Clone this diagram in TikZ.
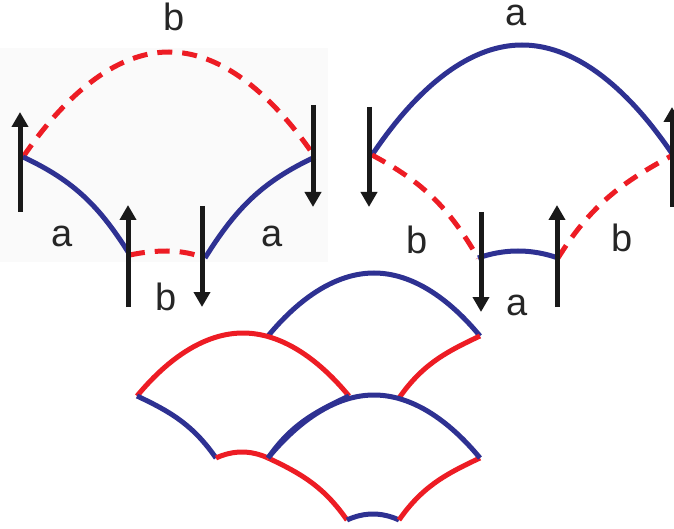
\documentclass[tikz,border=0pt]{standalone}
\usepackage{fontspec}
\setmainfont{Liberation Sans}
\usepackage{tikz}
\usetikzlibrary{arrows.meta}
\definecolor{bondblue}{RGB}{46,49,146}
\definecolor{bondred}{RGB}{237,28,36}
\tikzset{
  bonda/.style = {draw=bondblue, line width=5pt},
  bondb/.style = {draw=bondred, line width=5pt},
  dashb/.style = {bondb, dash pattern=on 15pt off 10pt},
  spin/.style = {-{Triangle[length=15pt,width=16pt]}, line width=5pt, draw=black!90},
  lbl/.style = {font=\fontsize{38}{44}\selectfont, text=black!85, inner sep=0pt}
}

\begin{document}
\begin{tikzpicture}[x=1pt, y=1pt]
\useasboundingbox (0,0) rectangle (674,-529);

% ----- LEFT PANEL -----
\fill[black!2] (0,-48) rectangle (328,-262);
\coordinate (L1)   at (23,-157);
\coordinate (L2)   at (315,-157);
\coordinate (L3)   at (130,-255);
\coordinate (L4)   at (205,-258);
\coordinate (Ltop) at (169,-52);
\coordinate (Lbot) at (167,-251);

\draw[dashb] (L1) parabola bend (Ltop) (L2);
\draw[bonda] (L1) to[out=-25, in=122] (L3);
\draw[dashb] (L3) parabola bend (Lbot) (L4);
\draw[bonda] (L4) to[out=58, in=-155] (L2);

\node[lbl] (lb1) at (174,-17)  {b};
\node[lbl] (la1) at (62,-236)  {a};
\node[lbl] (la2) at (272,-236) {a};
\node[lbl] (lb2) at (166,-297) {b};

% ----- RIGHT PANEL -----
\coordinate (R1)   at (372,-155);
\coordinate (R2)   at (673,-155);
\coordinate (R3)   at (478,-258);
\coordinate (R4)   at (558,-258);
\coordinate (Rtop) at (522,-45);
\coordinate (Rbot) at (518,-251);

\draw[bonda] (R1) parabola bend (Rtop) (R2);
\draw[dashb] (R1) to[out=-28, in=120] (R3);
\draw[bonda] (R3) parabola bend (Rbot) (R4);
\draw[dashb] (R4) to[out=58, in=-152] (R2);

\node[lbl] (ra1) at (516,-15)  {a};
\node[lbl] (rb1) at (417,-240) {b};
\node[lbl] (rb2) at (622,-238) {b};
\node[lbl] (ra2) at (517,-305) {a};

% ----- SPINS -----
\coordinate (s1a) at (20,-212);  \coordinate (s1b) at (20,-112);
\coordinate (s2a) at (313,-105); \coordinate (s2b) at (313,-207);
\coordinate (s3a) at (128,-307); \coordinate (s3b) at (128,-205);
\coordinate (s4a) at (202,-206); \coordinate (s4b) at (202,-307);
\coordinate (s5a) at (369,-107); \coordinate (s5b) at (369,-207);
\coordinate (s6a) at (672,-207); \coordinate (s6b) at (672,-107);
\coordinate (s7a) at (481,-212); \coordinate (s7b) at (481,-312);
\coordinate (s8a) at (557,-307); \coordinate (s8b) at (557,-205);

\draw[spin] (s1a) -- (s1b);
\draw[spin] (s2a) -- (s2b);
\draw[spin] (s3a) -- (s3b);
\draw[spin] (s4a) -- (s4b);
\draw[spin] (s5a) -- (s5b);
\draw[spin] (s6a) -- (s6b);
\draw[spin] (s7a) -- (s7b);
\draw[spin] (s8a) -- (s8b);

% ----- TILING (bottom) -----
% top fan
\coordinate (F2a) at (268,-336);
\coordinate (F2b) at (480,-336);
\coordinate (F2c) at (347,-398);
\coordinate (F2d) at (399,-398);
\coordinate (F2t) at (374,-273);
\draw[bonda] (F2a) parabola bend (F2t) (F2b);
\draw[bondb] (F2d) to[out=55, in=-155] (F2b);

% left fan
\coordinate (F1a) at (137,-396);
\coordinate (F1b) at (349,-396);
\coordinate (F1c) at (216,-458);
\coordinate (F1d) at (268,-458);
\coordinate (F1t) at (243,-333);
\coordinate (F1s) at (242,-452);
\draw[bondb] (F1a) parabola bend (F1t) (F1b);
\draw[bonda] (F1a) to[out=-25, in=125] (F1c);
\draw[bondb] (F1c) parabola bend (F1s) (F1d);
\draw[bonda] (F1d) to[out=55, in=-155] (F1b);

% middle fan
\coordinate (F3b) at (480,-458);
\coordinate (F3c) at (347,-520);
\coordinate (F3d) at (399,-520);
\coordinate (F3t) at (374,-395);
\coordinate (F3s) at (373,-514);
\draw[bondb] (F1d) to[out=-25, in=125] (F3c);
\draw[bonda] (F3c) parabola bend (F3s) (F3d);
\draw[bondb] (F3d) to[out=55, in=-155] (F3b);
\draw[bonda] (F1d) parabola bend (F3t) (F3b);

\end{tikzpicture}
\end{document}
